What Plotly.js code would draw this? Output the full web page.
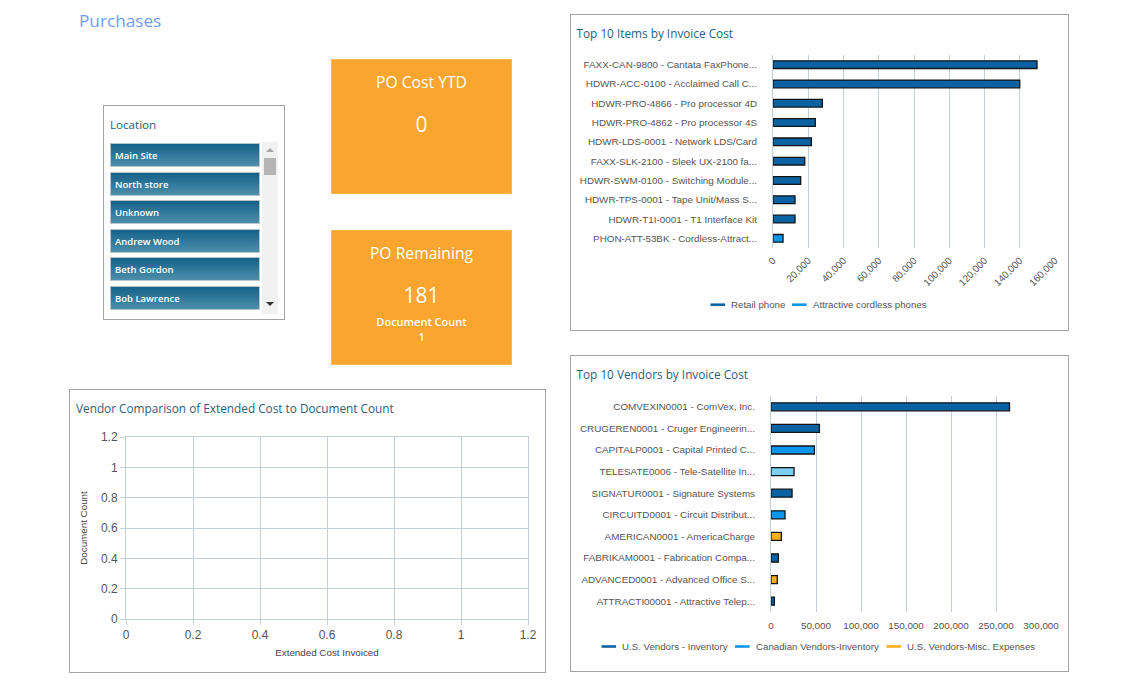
<!DOCTYPE html>
<html><head><meta charset="utf-8">
<script src="https://cdn.plot.ly/plotly-3.0.1.min.js"></script>
<style>
html,body{margin:0;padding:0;background:#fff;width:1140px;height:687px;overflow:hidden;font-family:"Open Sans",sans-serif}
.abs{position:absolute;box-sizing:border-box}
.panel{border:1px solid #a3a3a3;background:#fff}
.kpi{background:#faa52f;border:1px solid #fbb555;color:#fff;text-align:center;left:331px;width:181px;height:135px}
.kpi div{position:absolute;left:0;right:0;line-height:1}
.item{left:110px;width:150px;height:24px;border:1px solid #b9c4c9;background:linear-gradient(#14618a,#4d8fab);color:#fff;font-size:9.5px;font-weight:600;line-height:24px;padding-left:4px}
</style></head><body>
<div class="abs" style="left:79px;top:9px;font-size:17.2px;color:#6f9dfb;line-height:24px">Purchases</div>

<div class="abs panel" style="left:103px;top:105px;width:182px;height:215px"></div>
<div class="abs" style="left:110px;top:117px;font-size:11.6px;color:#2a5a72;line-height:16px">Location</div>
<div id="list"></div>
<div class="abs" style="left:262px;top:142px;width:16px;height:172px;background:#f1f1f1"></div>
<div class="abs" style="left:264px;top:158px;width:12px;height:17px;background:#b4b4b4"></div>
<div class="abs" style="left:266px;top:148px;width:0;height:0;border-left:4px solid transparent;border-right:4px solid transparent;border-bottom:4px solid #a6a6a6"></div>
<div class="abs" style="left:266px;top:302px;width:0;height:0;border-left:4px solid transparent;border-right:4px solid transparent;border-top:4px solid #333"></div>

<div class="abs kpi" style="top:59px"><div style="top:15px;font-size:15.7px">PO Cost YTD</div><div style="top:54px;font-size:21px">0</div></div>
<div class="abs kpi" style="top:230px"><div style="top:15px;font-size:15.7px">PO Remaining</div><div style="top:54px;font-size:21px">181</div><div style="top:85px;font-size:11px;font-weight:600">Document Count</div><div style="top:101px;font-size:10px;font-weight:600">1</div></div>

<div class="abs panel" id="items" style="left:570px;top:14px;width:499px;height:317px"></div>
<div class="abs panel" id="vendors" style="left:570px;top:355px;width:499px;height:317px"></div>
<div class="abs panel" id="compare" style="left:69px;top:389px;width:477px;height:284px"></div>
<script>
const locations = ["Main Site","North store","Unknown","Andrew Wood","Beth Gordon","Bob Lawrence"];

const itemLabels = ["FAXX-CAN-9800 - Cantata FaxPhone...","HDWR-ACC-0100 - Acclaimed Call C...","HDWR-PRO-4866 - Pro processor 4D","HDWR-PRO-4862 - Pro processor 4S","HDWR-LDS-0001 - Network LDS/Card","FAXX-SLK-2100 - Sleek UX-2100 fa...","HDWR-SWM-0100 - Switching Module...","HDWR-TPS-0001 - Tape Unit/Mass S...","HDWR-T1I-0001 - T1 Interface Kit","PHON-ATT-53BK - Cordless-Attract..."];
const itemValues = [149800,140000,28000,24000,21800,18000,15700,12500,12500,5700];
const itemSeries = ["Retail phone","Retail phone","Retail phone","Retail phone","Retail phone","Retail phone","Retail phone","Retail phone","Retail phone","Attractive cordless phones"];
const itemLegend = ["Retail phone","Attractive cordless phones"];
const itemTicks = [0,20000,40000,60000,80000,100000,120000,140000,160000];

const vendorLabels = ["COMVEXIN0001 - ComVex, Inc.","CRUGEREN0001 - Cruger Engineerin...","CAPITALP0001 - Capital Printed C...","TELESATE0006 - Tele-Satellite In...","SIGNATUR0001 - Signature Systems","CIRCUITD0001 - Circuit Distribut...","AMERICAN0001 - AmericaCharge","FABRIKAM0001 - Fabrication Compa...","ADVANCED0001 - Advanced Office S...","ATTRACTI00001 - Attractive Telep..."];
const vendorValues = [265000,53800,48200,25600,23400,15600,11500,8200,7000,3700];
const vendorSeries = ["U.S. Vendors - Inventory","U.S. Vendors - Inventory","Canadian Vendors-Inventory","Other","U.S. Vendors - Inventory","Canadian Vendors-Inventory","U.S. Vendors-Misc. Expenses","U.S. Vendors - Inventory","U.S. Vendors-Misc. Expenses","U.S. Vendors - Inventory"];
const vendorLegend = ["U.S. Vendors - Inventory","Canadian Vendors-Inventory","U.S. Vendors-Misc. Expenses"];
const vendorTicks = [0,50000,100000,150000,200000,250000,300000];

const seriesColors = {"Retail phone":"#0a62a3","Attractive cordless phones":"#0a96ea","U.S. Vendors - Inventory":"#0a62a3","Canadian Vendors-Inventory":"#0a96ea","U.S. Vendors-Misc. Expenses":"#fdb017","Other":"#7ed0f2"};
const compareTicks = [0,0.2,0.4,0.6,0.8,1,1.2];

const TITLE="Open Sans, sans-serif", LABEL="Liberation Sans, Arial, sans-serif";
const GRID="#c4d0d9", W=497, H=315;

document.getElementById('list').innerHTML = locations.map((n,i)=>
 `<div class="abs item" style="top:${143+i*28.5}px">${n}</div>`).join('');

function barChart(id,title,labels,values,series,legendNames,ticks,xMax,m,opts){
  const names=[...new Set(series)];
  const traces=names.map(s=>({type:'bar',orientation:'h',name:s,showlegend:false,
    y:labels.filter((_,i)=>series[i]===s),x:values.filter((_,i)=>series[i]===s),
    marker:{color:seriesColors[s],line:{color:'#111518',width:1.3}}}));
  // The reference legend uses short line keys, built here as paper-anchored keys and labels.
  const pw=W-m.l-m.r, ph=H-m.t-m.b;
  const px=v=>v/pw, py=v=>1-v/ph;
  const shapes=legendNames.map((s,i)=>({type:'line',xref:'paper',yref:'paper',layer:'above',
    x0:px(opts.keys[i]),x1:px(opts.keys[i]+14.6),y0:py(opts.ky),y1:py(opts.ky),
    line:{color:seriesColors[s],width:2.6}}));
  const annotations=legendNames.map((s,i)=>({xref:'paper',yref:'paper',text:s,showarrow:false,
    x:px(opts.keys[i]+18.6),y:py(opts.ky),xanchor:'left',yanchor:'middle',
    font:{family:LABEL,size:9.7,color:'#555'}}));
  Plotly.newPlot(id,traces,{
    width:W,height:H,margin:m,paper_bgcolor:'#fff',plot_bgcolor:'#fff',showlegend:false,shapes,annotations,
    title:{text:title,font:{family:TITLE,size:11.8,color:'#2a5f78'},x:5.5/W,xanchor:'left',xref:'container',y:1-18.5/H,yanchor:'middle',yref:'container'},
    barmode:'overlay',bargap:opts.gap,
    xaxis:{range:[0,xMax],tickvals:ticks,tickformat:',d',tickangle:opts.angle,showgrid:true,gridcolor:GRID,gridwidth:1,zeroline:false,showline:false,ticks:'',ticklabelstandoff:opts.xoff,
      tickfont:{family:LABEL,size:9.9,color:'#555'},automargin:false},
    yaxis:{type:'category',categoryorder:'array',categoryarray:labels,range:[labels.length-0.5,-0.5],showgrid:false,zeroline:false,showline:true,linecolor:GRID,linewidth:1,ticks:'',ticklabelstandoff:opts.standoff,
      tickfont:{family:LABEL,size:9.85,color:'#555'},automargin:false}
  },{displayModeBar:false,staticPlot:true});
}

barChart('items','Top 10 Items by Invoice Cost',itemLabels,itemValues,itemSeries,itemLegend,itemTicks,160000,
  {l:202,r:13,t:39.5,b:81.5},{gap:0.6,angle:-45,standoff:13,xoff:4,keys:[-62.5,19],ky:251});
barChart('vendors','Top 10 Vendors by Invoice Cost',vendorLabels,vendorValues,vendorSeries,vendorLegend,vendorTicks,300000,
  {l:200,r:27,t:40,b:59},{gap:0.63,angle:0,standoff:13,xoff:6,keys:[-169.5,-36,115.5],ky:250.5});

Plotly.newPlot('compare',[{type:'scatter',mode:'markers',x:[],y:[]}],{
  width:475,height:282,margin:{l:56,r:17,t:47,b:53},paper_bgcolor:'#fff',plot_bgcolor:'#fff',showlegend:false,
  title:{text:'Vendor Comparison of Extended Cost to Document Count',font:{family:TITLE,size:11.8,color:'#2a5f78'},x:6/475,xanchor:'left',xref:'container',y:1-19/282,yanchor:'middle',yref:'container'},
  xaxis:{range:[0,1.2],tickvals:compareTicks,showgrid:true,gridcolor:GRID,gridwidth:1,zeroline:false,showline:true,linecolor:GRID,linewidth:1,mirror:true,ticks:'outside',ticklen:5,tickcolor:GRID,
    tickfont:{family:LABEL,size:12,color:'#555'},title:{text:'Extended Cost Invoiced',standoff:7,font:{family:LABEL,size:9.8,color:'#444'}}},
  yaxis:{range:[0,1.2],tickvals:compareTicks,showgrid:true,gridcolor:GRID,gridwidth:1,zeroline:false,showline:true,linecolor:GRID,linewidth:1,mirror:true,ticks:'outside',ticklen:5,tickcolor:GRID,
    tickfont:{family:LABEL,size:12,color:'#555'},title:{text:'Document Count',standoff:11,font:{family:LABEL,size:9.8,color:'#444'}}}
},{displayModeBar:false,staticPlot:true});
</script>
</body></html>
